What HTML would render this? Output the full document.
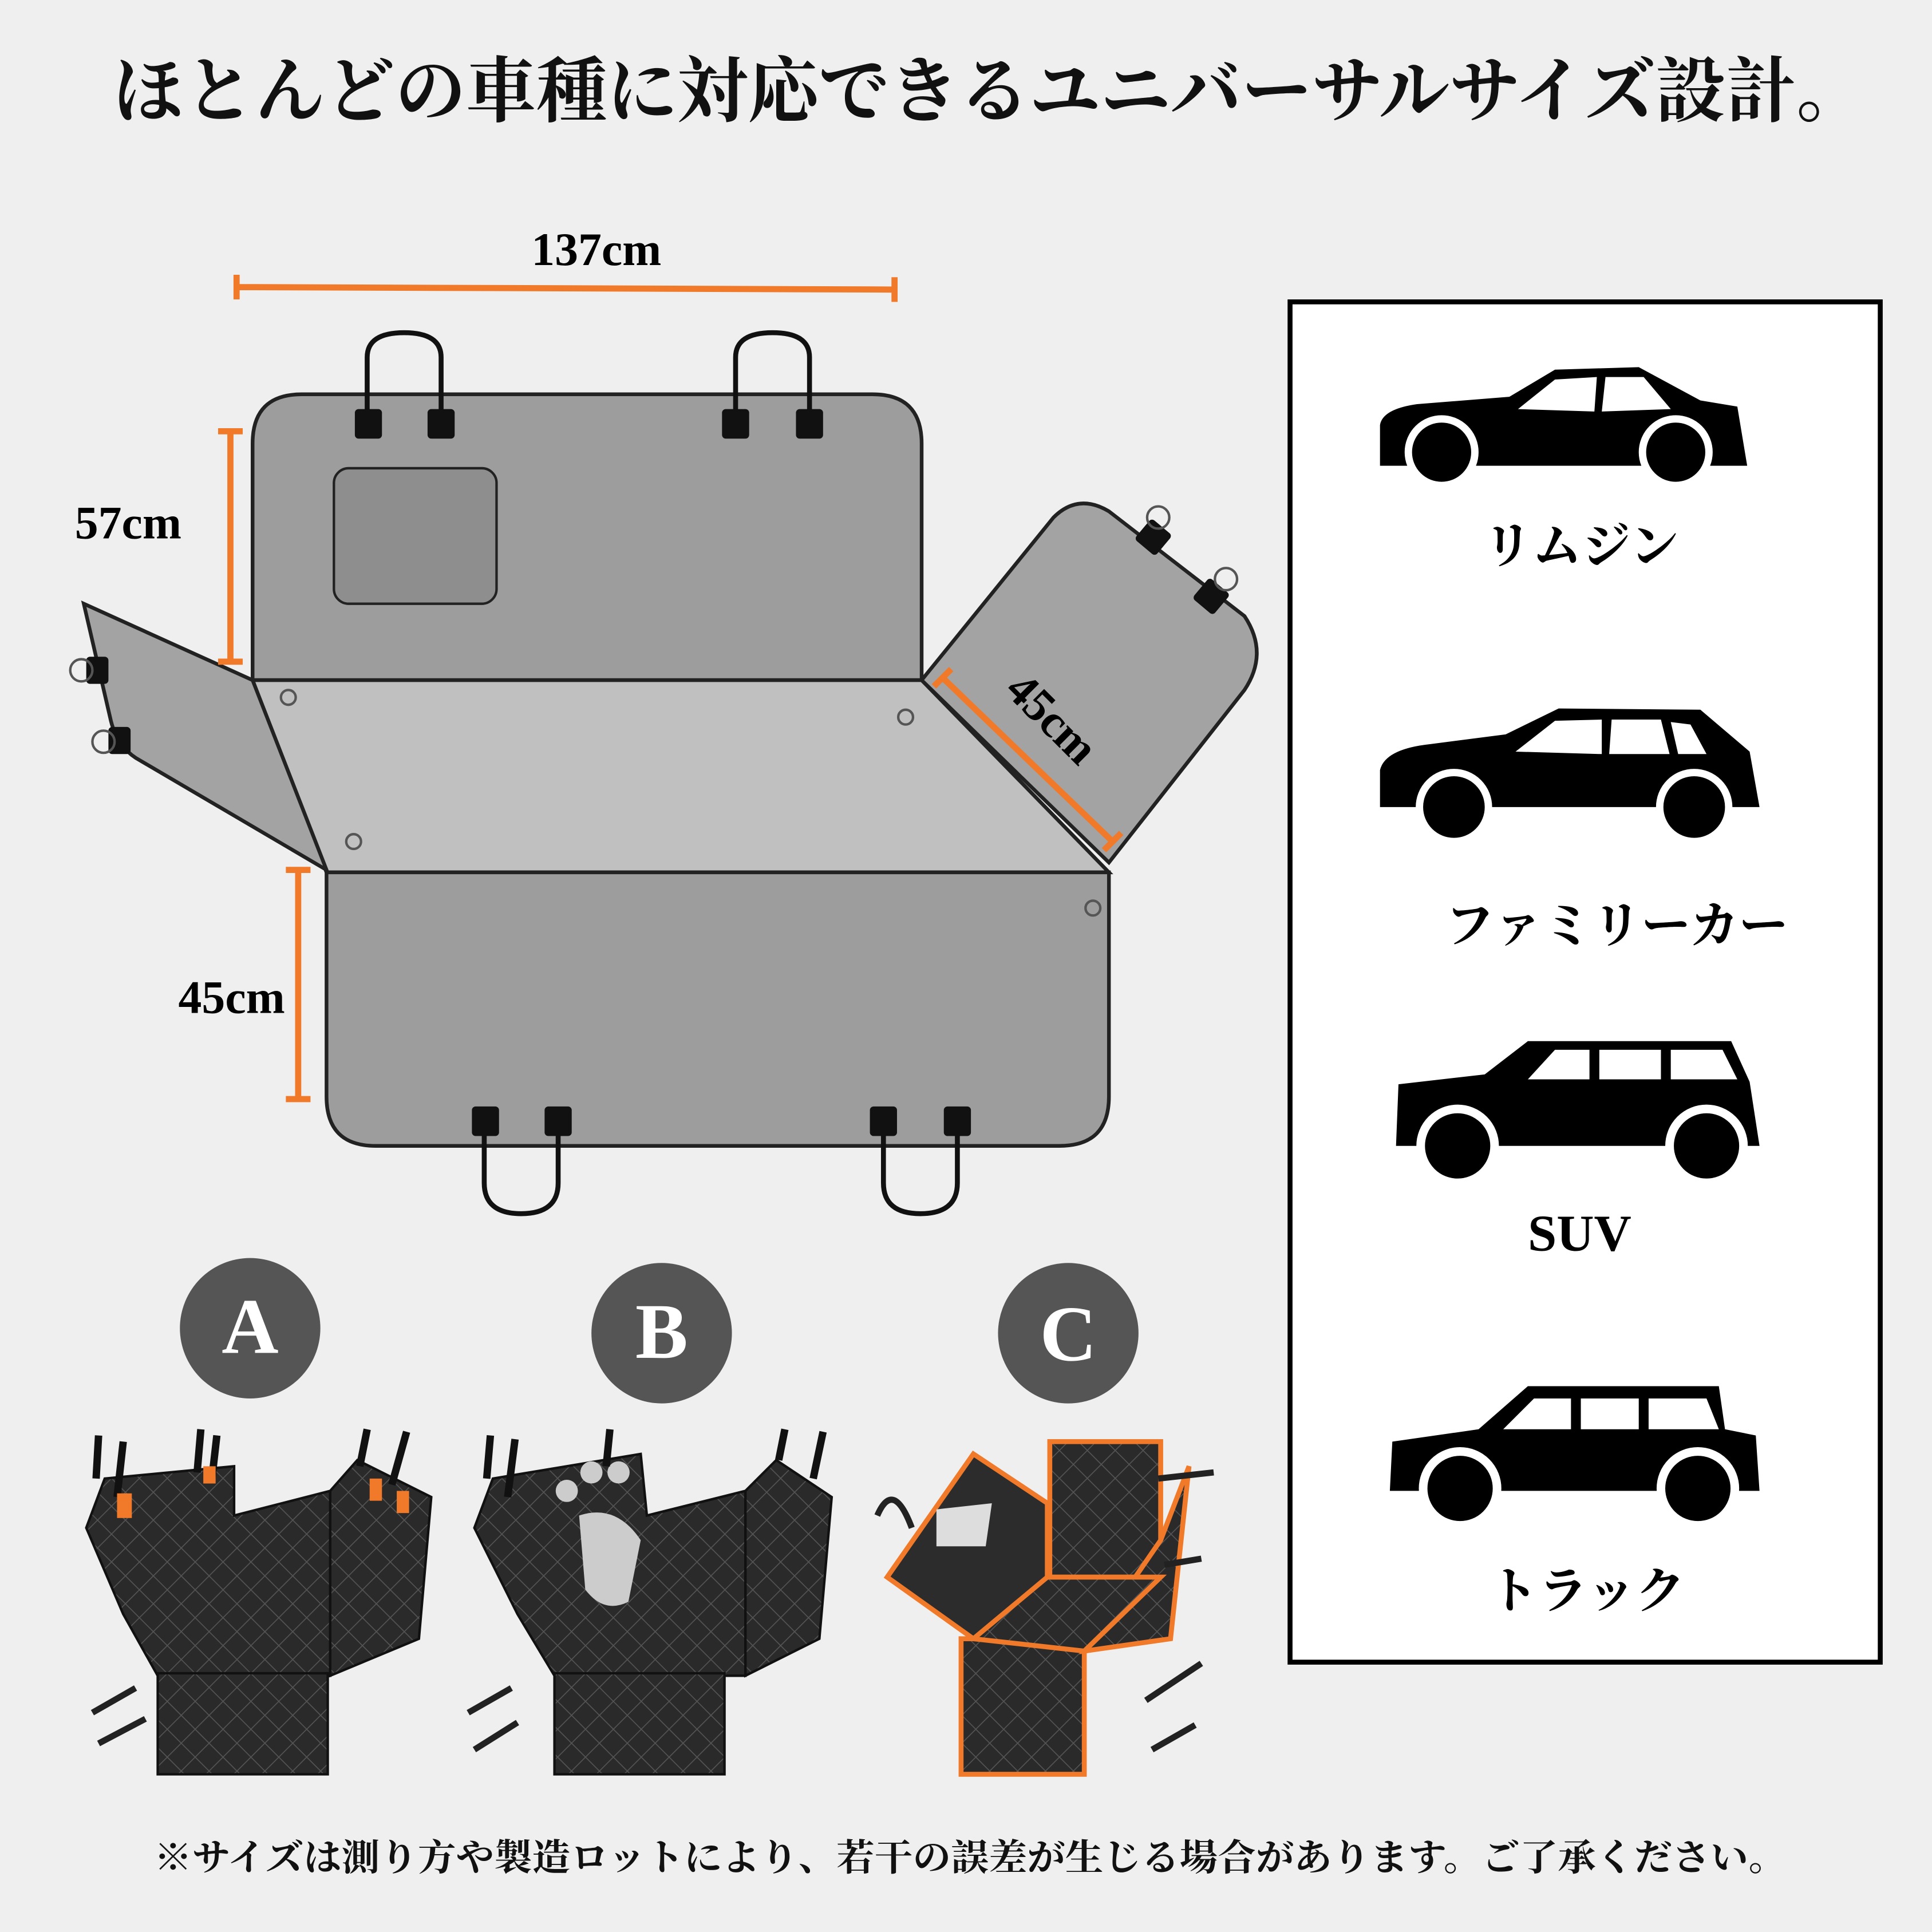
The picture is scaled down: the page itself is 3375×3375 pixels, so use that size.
<!DOCTYPE html>
<html><head><meta charset="utf-8">
<style>
html,body{margin:0;padding:0;background:#efefef;}
svg{display:block;}
.t{font-family:"Liberation Serif","Noto Serif CJK SC",serif;font-weight:bold;}
</style></head>
<body>
<svg width="3375" height="3375" viewBox="0 0 1568 1568" xmlns="http://www.w3.org/2000/svg">
<defs>
<pattern id="q" width="16" height="16" patternUnits="userSpaceOnUse" patternTransform="rotate(45)">
<rect width="16" height="16" fill="#2a2a2a"/>
<path d="M0 0H16M0 0V16" stroke="#555" stroke-width="1.5"/>
</pattern>
</defs>
<rect width="1568" height="1568" fill="#efefef"/>
<text class="t" x="92" y="94" font-size="58" fill="#111" textLength="1423" lengthAdjust="spacingAndGlyphs">ほとんどの車種に対応できるユニバーサルサイズ設計。</text>

<!-- right panel -->
<rect x="1047" y="245" width="479" height="1104" fill="#fff" stroke="#000" stroke-width="4"/>
<path d="M1120 345 Q1122 332 1150 328 L1225 322 L1262 300 L1330 298 L1380 325 L1410 330 L1418 378 L1120 378 Z" fill="#000"/>
<path d="M1232 332 L1262 308 L1296 306 L1294 334 Z M1303 306 L1334 306 L1356 332 L1300 334 Z" fill="#fff"/>
<circle cx="1170" cy="367" r="27" fill="#000" stroke="#fff" stroke-width="6"/><circle cx="1360" cy="367" r="27" fill="#000" stroke="#fff" stroke-width="6"/>
<text class="t" x="1283" y="457" font-size="40" text-anchor="middle">リムジン</text>
<path d="M1120 625 Q1124 608 1160 604 L1222 596 L1265 575 L1380 576 L1420 610 L1428 655 L1120 655 Z" fill="#000"/>
<path d="M1230 610 L1262 585 L1300 584 L1300 612 Z M1308 584 L1348 584 L1355 612 L1306 612 Z M1356 586 L1372 588 L1385 612 L1362 612 Z" fill="#fff"/>
<circle cx="1180" cy="655" r="28" fill="#000" stroke="#fff" stroke-width="6"/><circle cx="1375" cy="655" r="28" fill="#000" stroke="#fff" stroke-width="6"/>
<text class="t" x="1312" y="765" font-size="40" text-anchor="middle">ファミリーカー</text>
<path d="M1135 880 L1205 872 L1240 845 L1405 845 L1420 878 L1428 930 L1133 930 Z" fill="#000"/>
<path d="M1240 876 L1262 852 L1290 852 L1290 876 Z M1298 852 L1348 852 L1348 876 L1298 876 Z M1356 852 L1398 852 L1410 876 L1356 876 Z" fill="#fff"/>
<circle cx="1183" cy="930" r="30" fill="#000" stroke="#fff" stroke-width="7"/><circle cx="1385" cy="930" r="30" fill="#000" stroke="#fff" stroke-width="7"/>
<text class="t" x="1282" y="1015" font-size="42" text-anchor="middle">SUV</text>
<path d="M1130 1170 L1200 1160 L1240 1125 L1395 1125 L1400 1160 L1425 1165 L1428 1210 L1128 1210 Z" fill="#000"/>
<path d="M1220 1160 L1245 1135 L1275 1135 L1275 1160 Z M1283 1135 L1330 1135 L1330 1160 L1283 1160 Z M1338 1135 L1385 1135 L1395 1160 L1338 1160 Z" fill="#fff"/>
<circle cx="1185" cy="1208" r="30" fill="#000" stroke="#fff" stroke-width="7"/><circle cx="1378" cy="1208" r="30" fill="#000" stroke="#fff" stroke-width="7"/>
<text class="t" x="1288" y="1305" font-size="40" text-anchor="middle">トラック</text>

<!-- main diagram -->
<g stroke="#222" stroke-width="3">
<path d="M205 552 L205 360 Q205 320 245 320 L708 320 Q748 320 748 360 L748 552 Z" fill="#9d9d9d"/>
<path d="M205 552 L748 552 L900 708 L265 708 Z" fill="#c0c0c0"/>
<path d="M205 552 L265 706 L110 615 Q95 605 90 585 L68 490 Z" fill="#a3a3a3"/>
<path d="M748 552 L900 700 L1010 560 Q1030 530 1010 500 L900 415 Q875 400 855 420 Z" fill="#a3a3a3"/>
<path d="M265 708 L900 708 L900 890 Q900 930 860 930 L305 930 Q265 930 265 890 Z" fill="#9d9d9d"/>
</g>
<rect x="271" y="380" width="132" height="110" rx="12" fill="#8e8e8e" stroke="#222" stroke-width="2"/>
<g fill="none" stroke="#111" stroke-width="4">
<path d="M298 340 L298 290 Q298 270 328 270 Q358 270 358 290 L358 340"/>
<path d="M597 340 L597 290 Q597 270 627 270 Q657 270 657 290 L657 340"/>
<path d="M393 910 L393 960 Q393 985 423 985 Q453 985 453 960 L453 910"/>
<path d="M717 910 L717 960 Q717 985 747 985 Q777 985 777 960 L777 910"/>
</g>
<g fill="#111">
<rect x="288" y="332" width="22" height="24" rx="3"/><rect x="347" y="332" width="22" height="24" rx="3"/>
<rect x="586" y="332" width="22" height="24" rx="3"/><rect x="646" y="332" width="22" height="24" rx="3"/>
<rect x="383" y="898" width="22" height="24" rx="3"/><rect x="442" y="898" width="22" height="24" rx="3"/>
<rect x="706" y="898" width="22" height="24" rx="3"/><rect x="766" y="898" width="22" height="24" rx="3"/>
<rect x="70" y="533" width="18" height="22" rx="3"/><rect x="88" y="590" width="18" height="22" rx="3"/>
<rect x="925" y="425" width="22" height="22" rx="3" transform="rotate(40 936 436)"/><rect x="972" y="473" width="22" height="22" rx="3" transform="rotate(40 983 484)"/>
</g>
<g fill="none" stroke="#555" stroke-width="2">
<circle cx="66" cy="544" r="9"/><circle cx="84" cy="602" r="9"/><circle cx="940" cy="420" r="9"/><circle cx="995" cy="470" r="9"/>
<circle cx="234" cy="566" r="6"/><circle cx="735" cy="582" r="6"/><circle cx="287" cy="683" r="6"/><circle cx="887" cy="737" r="6"/>
</g>
<g stroke="#f07a2a" stroke-width="5" fill="none">
<path d="M192 233 L726 235 M192 223 V243 M726 225 V245"/>
<path d="M187 350 V537 M177 350 H197 M177 537 H197"/>
<path d="M242 706 V892 M232 706 H252 M232 892 H252"/>
<path d="M765 550 L903 683 M758 557 L772 543 M896 690 L910 676"/>
</g>
<text class="t" x="484" y="215" font-size="38" text-anchor="middle">137cm</text>
<text class="t" x="104" y="437" font-size="38" text-anchor="middle">57cm</text>
<text class="t" x="188" y="822" font-size="38" text-anchor="middle">45cm</text>
<text class="t" x="0" y="0" font-size="38" text-anchor="middle" transform="translate(845 592) rotate(45)">45cm</text>

<g class="t" font-size="64" fill="#fff" text-anchor="middle">
<circle cx="203" cy="1078" r="57" fill="#555"/><text x="203" y="1098">A</text>
<circle cx="537" cy="1082" r="57" fill="#555"/><text x="537" y="1102">B</text>
<circle cx="867" cy="1082" r="57" fill="#555"/><text x="867" y="1104">C</text>
</g>

<g stroke="#111" stroke-width="2">
<path d="M70 1240 L85 1200 L190 1190 L190 1230 L268 1210 L268 1360 L128 1360 L100 1310 Z" fill="url(#q)"/>
<path d="M268 1210 L290 1185 L350 1215 L340 1330 L268 1360 Z" fill="url(#q)"/>
<rect x="128" y="1358" width="138" height="82" fill="url(#q)"/>
</g>
<g stroke="#111" stroke-width="6" fill="none"><path d="M78 1200 L80 1165 M95 1215 L100 1170 M160 1195 L163 1160 M172 1200 L176 1165 M292 1190 L298 1160 M318 1205 L330 1162"/></g>
<g fill="#f07a2a"><rect x="95" y="1212" width="12" height="20"/><rect x="165" y="1190" width="10" height="14"/><rect x="300" y="1200" width="10" height="18"/><rect x="322" y="1210" width="10" height="18"/></g>
<path d="M75 1390 L110 1370 M80 1415 L118 1395" stroke="#222" stroke-width="5"/>
<g stroke="#111" stroke-width="2">
<path d="M385 1240 L400 1200 L520 1180 L525 1230 L605 1210 L605 1360 L450 1360 L420 1310 Z" fill="url(#q)"/>
<path d="M605 1210 L630 1185 L675 1215 L665 1330 L605 1360 Z" fill="url(#q)"/>
<rect x="450" y="1358" width="138" height="82" fill="url(#q)"/>
</g>
<path d="M470 1230 Q500 1220 520 1250 L510 1300 Q490 1310 475 1290 Z" fill="#ccc"/>
<circle cx="460" cy="1210" r="9" fill="#ccc"/><circle cx="480" cy="1195" r="9" fill="#ccc"/><circle cx="502" cy="1195" r="9" fill="#ccc"/>
<g stroke="#111" stroke-width="6" fill="none"><path d="M395 1200 L398 1165 M412 1215 L418 1168 M492 1190 L495 1160 M632 1185 L637 1160 M660 1200 L668 1162"/></g>
<path d="M380 1390 L415 1370 M385 1420 L420 1398" stroke="#222" stroke-width="5"/>
<g stroke="#f07a2a" stroke-width="4">
<path d="M720 1280 L790 1180 L850 1220 L850 1330 L790 1330 Z" fill="#2c2c2c"/>
<rect x="852" y="1170" width="90" height="110" fill="url(#q)"/>
<rect x="780" y="1330" width="100" height="110" fill="url(#q)"/>
<path d="M942 1250 L965 1190 L950 1330 L880 1340 Z" fill="url(#q)"/>
<path d="M850 1280 L942 1280 L880 1340 L790 1330 Z" fill="url(#q)"/>
</g>
<path d="M760 1225 L805 1220 L800 1255 L760 1255 Z" fill="#ddd"/>
<path d="M712 1230 Q725 1200 740 1240 M940 1200 L985 1195 M945 1270 L975 1265 M930 1380 L975 1350 M935 1420 L970 1400" stroke="#222" stroke-width="5" fill="none"/>

<text class="t" x="125" y="1518" font-size="30" fill="#111" textLength="1325" lengthAdjust="spacingAndGlyphs">※サイズは測り方や製造ロットにより、若干の誤差が生じる場合があります。ご了承ください。</text>
</svg>
</body></html>
